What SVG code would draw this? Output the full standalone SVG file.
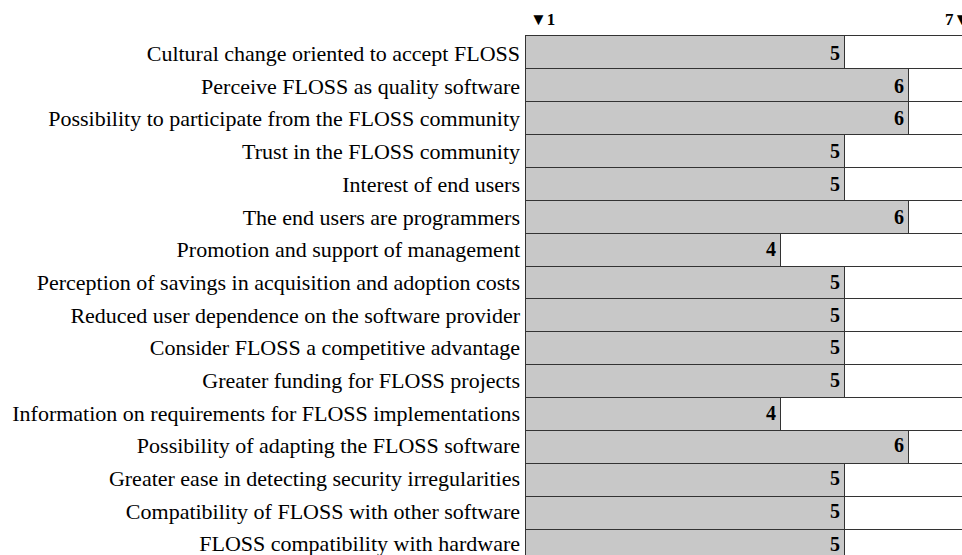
<svg xmlns="http://www.w3.org/2000/svg" width="962" height="555" viewBox="0 0 962 555">
<style>
.lbl{font-family:"Liberation Serif","Times New Roman",serif;font-size:22px;fill:#000;text-anchor:end}
.val{font-family:"Liberation Serif","Times New Roman",serif;font-size:20px;font-weight:bold;fill:#000;text-anchor:end}
.hdr{font-family:"Liberation Serif","DejaVu Serif",serif;font-size:17px;font-weight:bold;fill:#000}
.bg{fill:#fff;stroke:#333;stroke-width:1}
.bar{fill:#c8c8c8;stroke:#333;stroke-width:1}
</style>
<rect width="962" height="555" fill="#fff"/>
<g id="header">
<text class="hdr" x="530" y="25">▼1</text>
<text class="hdr" x="945" y="25">7▼</text>
</g>
<g id="r1" transform="translate(0,35)"><rect class="bg" x="525.5" y="0.5" width="450" height="33"/><rect class="bar" x="525.5" y="0.5" width="319" height="33"/><text class="lbl" x="520" y="26">Cultural change oriented to accept FLOSS</text><text class="val" x="840" y="25">5</text></g>
<g id="r2" transform="translate(0,68)"><rect class="bg" x="525.5" y="0.5" width="450" height="33"/><rect class="bar" x="525.5" y="0.5" width="383" height="33"/><text class="lbl" x="520" y="25.7">Perceive FLOSS as quality software</text><text class="val" x="904" y="24.7">6</text></g>
<g id="r3" transform="translate(0,101)"><rect class="bg" x="525.5" y="0.5" width="450" height="33"/><rect class="bar" x="525.5" y="0.5" width="383" height="33"/><text class="lbl" x="520" y="25.4">Possibility to participate from the FLOSS community</text><text class="val" x="904" y="24.4">6</text></g>
<g id="r4" transform="translate(0,134)"><rect class="bg" x="525.5" y="0.5" width="450" height="33"/><rect class="bar" x="525.5" y="0.5" width="319" height="33"/><text class="lbl" x="520" y="25.1">Trust in the FLOSS community</text><text class="val" x="840" y="24.1">5</text></g>
<g id="r5" transform="translate(0,167)"><rect class="bg" x="525.5" y="0.5" width="450" height="33"/><rect class="bar" x="525.5" y="0.5" width="319" height="33"/><text class="lbl" x="520" y="24.8">Interest of end users</text><text class="val" x="840" y="23.8">5</text></g>
<g id="r6" transform="translate(0,200)"><rect class="bg" x="525.5" y="0.5" width="450" height="33"/><rect class="bar" x="525.5" y="0.5" width="383" height="33"/><text class="lbl" x="520" y="24.5">The end users are programmers</text><text class="val" x="904" y="23.5">6</text></g>
<g id="r7" transform="translate(0,233)"><rect class="bg" x="525.5" y="0.5" width="450" height="33"/><rect class="bar" x="525.5" y="0.5" width="255" height="33"/><text class="lbl" x="520" y="24.2">Promotion and support of management</text><text class="val" x="776" y="23.2">4</text></g>
<g id="r8" transform="translate(0,266)"><rect class="bg" x="525.5" y="0.5" width="450" height="33"/><rect class="bar" x="525.5" y="0.5" width="319" height="33"/><text class="lbl" x="520" y="23.9">Perception of savings in acquisition and adoption costs</text><text class="val" x="840" y="22.9">5</text></g>
<g id="r9" transform="translate(0,298)"><rect class="bg" x="525.5" y="0.5" width="450" height="33"/><rect class="bar" x="525.5" y="0.5" width="319" height="33"/><text class="lbl" x="520" y="24.6">Reduced user dependence on the software provider</text><text class="val" x="840" y="23.6">5</text></g>
<g id="r10" transform="translate(0,331)"><rect class="bg" x="525.5" y="0.5" width="450" height="33"/><rect class="bar" x="525.5" y="0.5" width="319" height="33"/><text class="lbl" x="520" y="24.3">Consider FLOSS a competitive advantage</text><text class="val" x="840" y="23.3">5</text></g>
<g id="r11" transform="translate(0,364)"><rect class="bg" x="525.5" y="0.5" width="450" height="33"/><rect class="bar" x="525.5" y="0.5" width="319" height="33"/><text class="lbl" x="520" y="24">Greater funding for FLOSS projects</text><text class="val" x="840" y="23">5</text></g>
<g id="r12" transform="translate(0,397)"><rect class="bg" x="525.5" y="0.5" width="450" height="33"/><rect class="bar" x="525.5" y="0.5" width="255" height="33"/><text class="lbl" x="520" y="23.7">Information on requirements for FLOSS implementations</text><text class="val" x="776" y="22.7">4</text></g>
<g id="r13" transform="translate(0,430)"><rect class="bg" x="525.5" y="0.5" width="450" height="33"/><rect class="bar" x="525.5" y="0.5" width="383" height="33"/><text class="lbl" x="520" y="23.4">Possibility of adapting the FLOSS software</text><text class="val" x="904" y="22.4">6</text></g>
<g id="r14" transform="translate(0,463)"><rect class="bg" x="525.5" y="0.5" width="450" height="33"/><rect class="bar" x="525.5" y="0.5" width="319" height="33"/><text class="lbl" x="520" y="23.1">Greater ease in detecting security irregularities</text><text class="val" x="840" y="22.1">5</text></g>
<g id="r15" transform="translate(0,496)"><rect class="bg" x="525.5" y="0.5" width="450" height="33"/><rect class="bar" x="525.5" y="0.5" width="319" height="33"/><text class="lbl" x="520" y="22.8">Compatibility of FLOSS with other software</text><text class="val" x="840" y="21.8">5</text></g>
<g id="r16" transform="translate(0,529)"><rect class="bg" x="525.5" y="0.5" width="450" height="33"/><rect class="bar" x="525.5" y="0.5" width="319" height="33"/><text class="lbl" x="520" y="22">FLOSS compatibility with hardware</text><text class="val" x="840" y="21.5">5</text></g>
</svg>
